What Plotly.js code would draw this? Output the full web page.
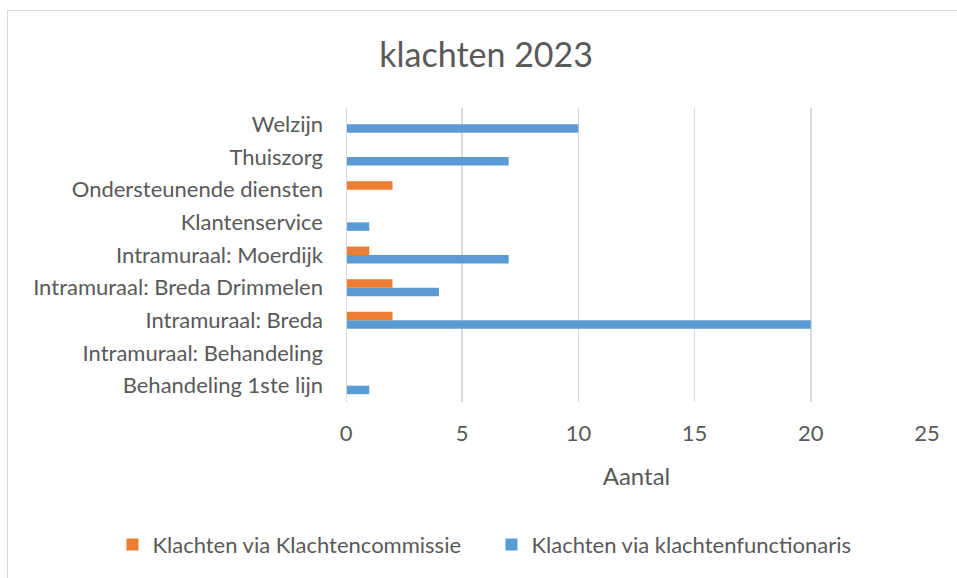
<!DOCTYPE html>
<html><head><meta charset="utf-8">
<script src="https://cdn.plot.ly/plotly-3.0.1.min.js"></script>
<style>html,body{margin:0;padding:0;background:#fff;}#chart{width:957px;height:578px;position:relative;}
#frame{position:absolute;left:7px;top:10px;width:960px;height:580px;border:1px solid #d9d9d9;pointer-events:none;}</style>
</head><body>
<div id="chart"></div>
<div id="frame"></div>
<script>
const categories = ["Behandeling 1ste lijn","Intramuraal: Behandeling","Intramuraal: Breda","Intramuraal: Breda Drimmelen","Intramuraal: Moerdijk","Klantenservice","Ondersteunende diensten","Thuiszorg","Welzijn"];
const commissie = [0,0,2,2,1,0,2,0,0];
const functionaris = [1,0,20,4,7,1,0,7,10];
const xTicks = [0,5,10,15,20,25];

const font = "Lato, 'Open Sans', sans-serif";
const traces = [
  {type:'bar', orientation:'h', name:'Klachten via klachtenfunctionaris', y:categories, x:functionaris, marker:{color:'#5b9bd5'}},
  {type:'bar', orientation:'h', name:'Klachten via Klachtencommissie', y:categories, x:commissie, marker:{color:'#ed7d31'}}
];
const layout = {
  width:957, height:578,
  margin:{l:346, r:30, t:108, b:171},
  paper_bgcolor:'#fff', plot_bgcolor:'#fff',
  font:{family:font, color:'#595959', size:22},
  title:{text:'klachten 2023', font:{size:34, color:'#595959', family:font}, x:0.508, xanchor:'center', y:0.905, yanchor:'middle'},
  barmode:'group', bargap:0.48, bargroupgap:0,
  xaxis:{range:[0,25], tickvals:xTicks, ticktext:xTicks.map(String), showgrid:true, gridcolor:'#d9d9d9', gridwidth:1.5, zeroline:false,
         showline:false, ticks:'', ticklen:0, tickfont:{size:22}, ticklabelstandoff:16, title:{text:'Aantal', font:{size:24}, standoff:23}},
  yaxis:{type:'category', categoryorder:'array', categoryarray:categories, showgrid:false, zeroline:false, showline:false,
         ticks:'', tickfont:{size:22}, ticklabelstandoff:22},
  shapes:[{type:'line', xref:'x', yref:'paper', x0:0, x1:0, y0:0, y1:1, line:{color:'#d9d9d9', width:2}}],
  legend:{orientation:'h', traceorder:'reversed', x:-0.402, xanchor:'left', y:-0.485, yanchor:'middle', font:{size:22},
          entrywidth:334, entrywidthmode:'pixels'},
  showlegend:true
};
Plotly.newPlot('chart', traces, layout, {displayModeBar:false, staticPlot:true});
</script>
</body></html>
